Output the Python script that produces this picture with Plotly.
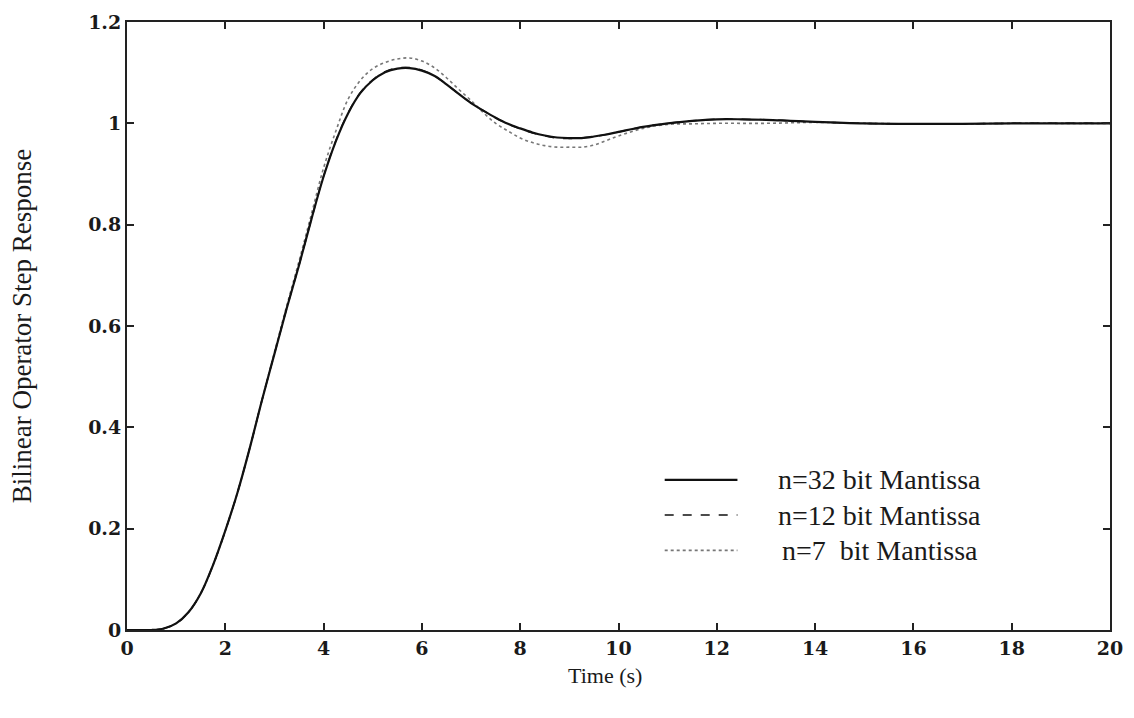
import plotly.graph_objects as go

# time samples (s)
t = [0, 0.25, 0.5, 0.75, 1.0, 1.25, 1.5, 1.75, 2.0, 2.25, 2.5, 2.75, 3.0, 3.25, 3.5, 3.75,
     4.0, 4.25, 4.5, 4.75, 5.0, 5.25, 5.5, 5.75, 6.0, 6.25, 6.5, 6.75, 7.0, 7.25, 7.5, 7.75,
     8.0, 8.25, 8.5, 8.75, 9.0, 9.25, 9.5, 9.75, 10.0, 10.5, 11.0, 11.5, 12.0, 12.5, 13.0,
     13.5, 14.0, 15.0, 16.0, 17.0, 18.0, 19.0, 20.0]

# n=32 bit mantissa (solid)
y32 = [0.0, 0.0, 0.0, 0.003, 0.013, 0.035, 0.072, 0.128, 0.196, 0.272, 0.36, 0.455, 0.545, 0.635, 0.72, 0.81,
       0.895, 0.965, 1.02, 1.06, 1.085, 1.101, 1.108, 1.109, 1.104, 1.094, 1.077, 1.058, 1.04, 1.025, 1.011, 0.999,
       0.99, 0.982, 0.976, 0.972, 0.971, 0.971, 0.974, 0.978, 0.983, 0.993, 1.0, 1.005, 1.008, 1.008, 1.007,
       1.005, 1.003, 1.0, 0.999, 0.999, 1.0, 1.0, 1.0]

# n=12 bit mantissa (dashed)
y12 = [0.0, 0.0, 0.0, 0.003, 0.013, 0.035, 0.072, 0.128, 0.196, 0.272, 0.36, 0.455, 0.545, 0.635, 0.72, 0.81,
       0.896, 0.966, 1.021, 1.061, 1.086, 1.102, 1.109, 1.110, 1.105, 1.094, 1.077, 1.058, 1.04, 1.025, 1.011, 0.999,
       0.989, 0.981, 0.975, 0.971, 0.970, 0.971, 0.974, 0.978, 0.983, 0.993, 1.0, 1.005, 1.008, 1.008, 1.007,
       1.005, 1.003, 1.0, 0.999, 0.999, 1.0, 1.0, 1.0]

# n=7 bit mantissa (dotted)
y7 = [0.0, 0.0, 0.0, 0.003, 0.013, 0.035, 0.072, 0.128, 0.196, 0.272, 0.36, 0.455, 0.548, 0.64, 0.728, 0.82,
      0.912, 0.985, 1.048, 1.085, 1.108, 1.12, 1.127, 1.129, 1.123, 1.11, 1.09, 1.067, 1.045, 1.021, 1.0, 0.985,
      0.971, 0.962, 0.956, 0.953, 0.953, 0.953, 0.957, 0.966, 0.975, 0.99, 0.998, 0.999, 1.0, 1.0, 1.0,
      1.001, 1.002, 1.0, 0.999, 0.999, 1.0, 1.0, 1.0]

names = ["n=32 bit Mantissa", "n=12 bit Mantissa", "n=7\u00a0 bit Mantissa"]
series = [y32, y12, y7]
colors = ["#111111", "#111111", "#777777"]
widths = [2.2, 1.5, 1.6]
dashes = ["solid", "dash", "dot"]

x_ticks = [0, 2, 4, 6, 8, 10, 12, 14, 16, 18, 20]
y_ticks = [0, 0.2, 0.4, 0.6, 0.8, 1.0, 1.2]
y_tick_text = ["0", "0.2", "0.4", "0.6", "0.8", "1", "1.2"]

fig = go.Figure()
for i in [2, 1, 0]:
    fig.add_trace(go.Scatter(x=t, y=series[i], mode="lines", name=names[i], line_shape="spline",
                             showlegend=False,
                             line=dict(color=colors[i], width=widths[i], dash=dashes[i])))

# legend drawn as key lines + labels (placed in paper coordinates)
leg_x0, leg_x1, leg_text_x = 0.547, 0.621, 0.766
leg_rows = [0.247, 0.189, 0.131]
for i in range(3):
    fig.add_shape(type="line", xref="paper", yref="paper",
                  x0=leg_x0, x1=leg_x1, y0=leg_rows[i], y1=leg_rows[i],
                  line=dict(color=colors[i], width=widths[i], dash=dashes[i]))
    fig.add_annotation(xref="paper", yref="paper", x=leg_text_x, y=leg_rows[i],
                       text=names[i], showarrow=False, xanchor="center", yanchor="middle",
                       font=dict(family="Liberation Serif", size=28, color="#1a1a1a"))

# x-axis title (slightly left of centre, as in the original)
fig.add_annotation(xref="paper", yref="paper", x=0.486, y=-0.075, text="Time (s)",
                   showarrow=False, xanchor="center", yanchor="middle",
                   font=dict(family="Liberation Serif", size=22, color="#1a1a1a"))

axis_font = dict(family="DejaVu Serif", size=19, color="#1a1a1a", weight="bold")
fig.update_layout(
    width=1134, height=718,
    margin=dict(l=127, r=24, t=22, b=88),
    paper_bgcolor="white", plot_bgcolor="white",
    showlegend=False,
    xaxis=dict(range=[0, 20], tickvals=x_ticks, ticks="inside", ticklen=7, tickwidth=2,
               tickcolor="#222222", showline=True, linecolor="#222222", linewidth=2,
               mirror="ticks", showgrid=False, zeroline=False, tickfont=axis_font),
    yaxis=dict(range=[0, 1.2], tickvals=y_ticks, ticktext=y_tick_text, ticks="inside", ticklen=7,
               tickwidth=2, tickcolor="#222222", showline=True, linecolor="#222222", linewidth=2,
               mirror="ticks", showgrid=False, zeroline=False, tickfont=axis_font,
               title=dict(text="Bilinear Operator Step Response",
                          font=dict(family="Liberation Serif", size=27, color="#1a1a1a"),
                          standoff=49)),
)

fig.write_html("out.html")
